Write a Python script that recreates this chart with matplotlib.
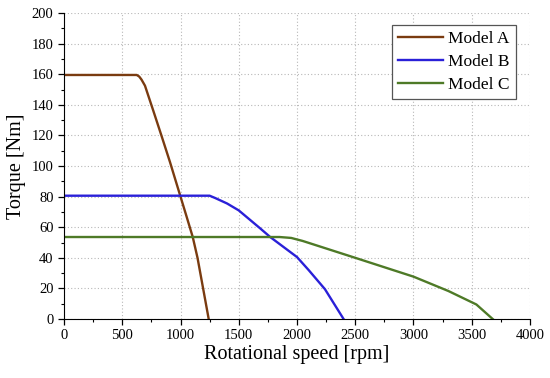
import matplotlib
matplotlib.use("Agg")
import matplotlib.pyplot as plt
from matplotlib.ticker import MultipleLocator

# Torque-speed envelopes
speed_a = [0, 624, 645, 665, 695, 767, 838, 910, 996, 1050, 1105, 1146, 1194, 1242]
torque_a = [159.5, 159.5, 158.5, 156.5, 152.5, 136, 119.5, 102.5, 81, 67.5, 53.6, 40, 20, 0]

speed_b = [0, 1250, 1300, 1400, 1500, 1680, 1770, 2000, 2100, 2240, 2400]
torque_b = [80.6, 80.6, 79, 75.5, 71, 59.5, 53.6, 40.5, 32, 19.5, 0]

speed_c = [0, 1850, 1950, 2050, 2500, 3000, 3300, 3540, 3680]
torque_c = [53.6, 53.6, 53, 51, 40, 27.7, 18.3, 9.5, 0]

labels = ["Model A", "Model B", "Model C"]
colors = ["#7a3b10", "#2a20d8", "#4e7a27"]

plt.rcParams["font.family"] = ["Liberation Serif", "DejaVu Serif"]

fig = plt.figure(figsize=(5.5, 3.78), dpi=100)
ax = fig.add_axes([0.1164, 0.156, 0.8472, 0.8096])

for xs, ys, lab, col in zip([speed_a, speed_b, speed_c],
                            [torque_a, torque_b, torque_c], labels, colors):
    ax.plot(xs, ys, color=col, lw=1.7, label=lab)

ax.set_xlim(0, 4000)
ax.set_ylim(0, 200)
ax.xaxis.set_major_locator(MultipleLocator(500))
ax.xaxis.set_minor_locator(MultipleLocator(250))
ax.yaxis.set_major_locator(MultipleLocator(20))
ax.yaxis.set_minor_locator(MultipleLocator(10))
ax.tick_params(which="major", direction="out", length=4, width=0.9, labelsize=10.5)
ax.tick_params(which="minor", direction="out", length=2.2, width=0.8)
ax.spines["top"].set_visible(False)
ax.spines["right"].set_visible(False)
ax.grid(True, which="major", linestyle=(0, (1, 2)), color="#b8b8b8", lw=0.8)
ax.set_axisbelow(True)

ax.set_xlabel("Rotational speed [rpm]", fontsize=14.5, labelpad=2)
ax.set_ylabel("Torque [Nm]", fontsize=14.5, labelpad=4)

leg = ax.legend(loc="upper left", bbox_to_anchor=(0.703, 0.961), borderaxespad=0,
                fontsize=12.5, fancybox=False, framealpha=1, edgecolor="#555555",
                handlelength=2.6, handletextpad=0.3, labelspacing=0.4,
                borderpad=0.35)
leg.get_frame().set_linewidth(0.9)

fig.savefig("out.png", dpi=100)
